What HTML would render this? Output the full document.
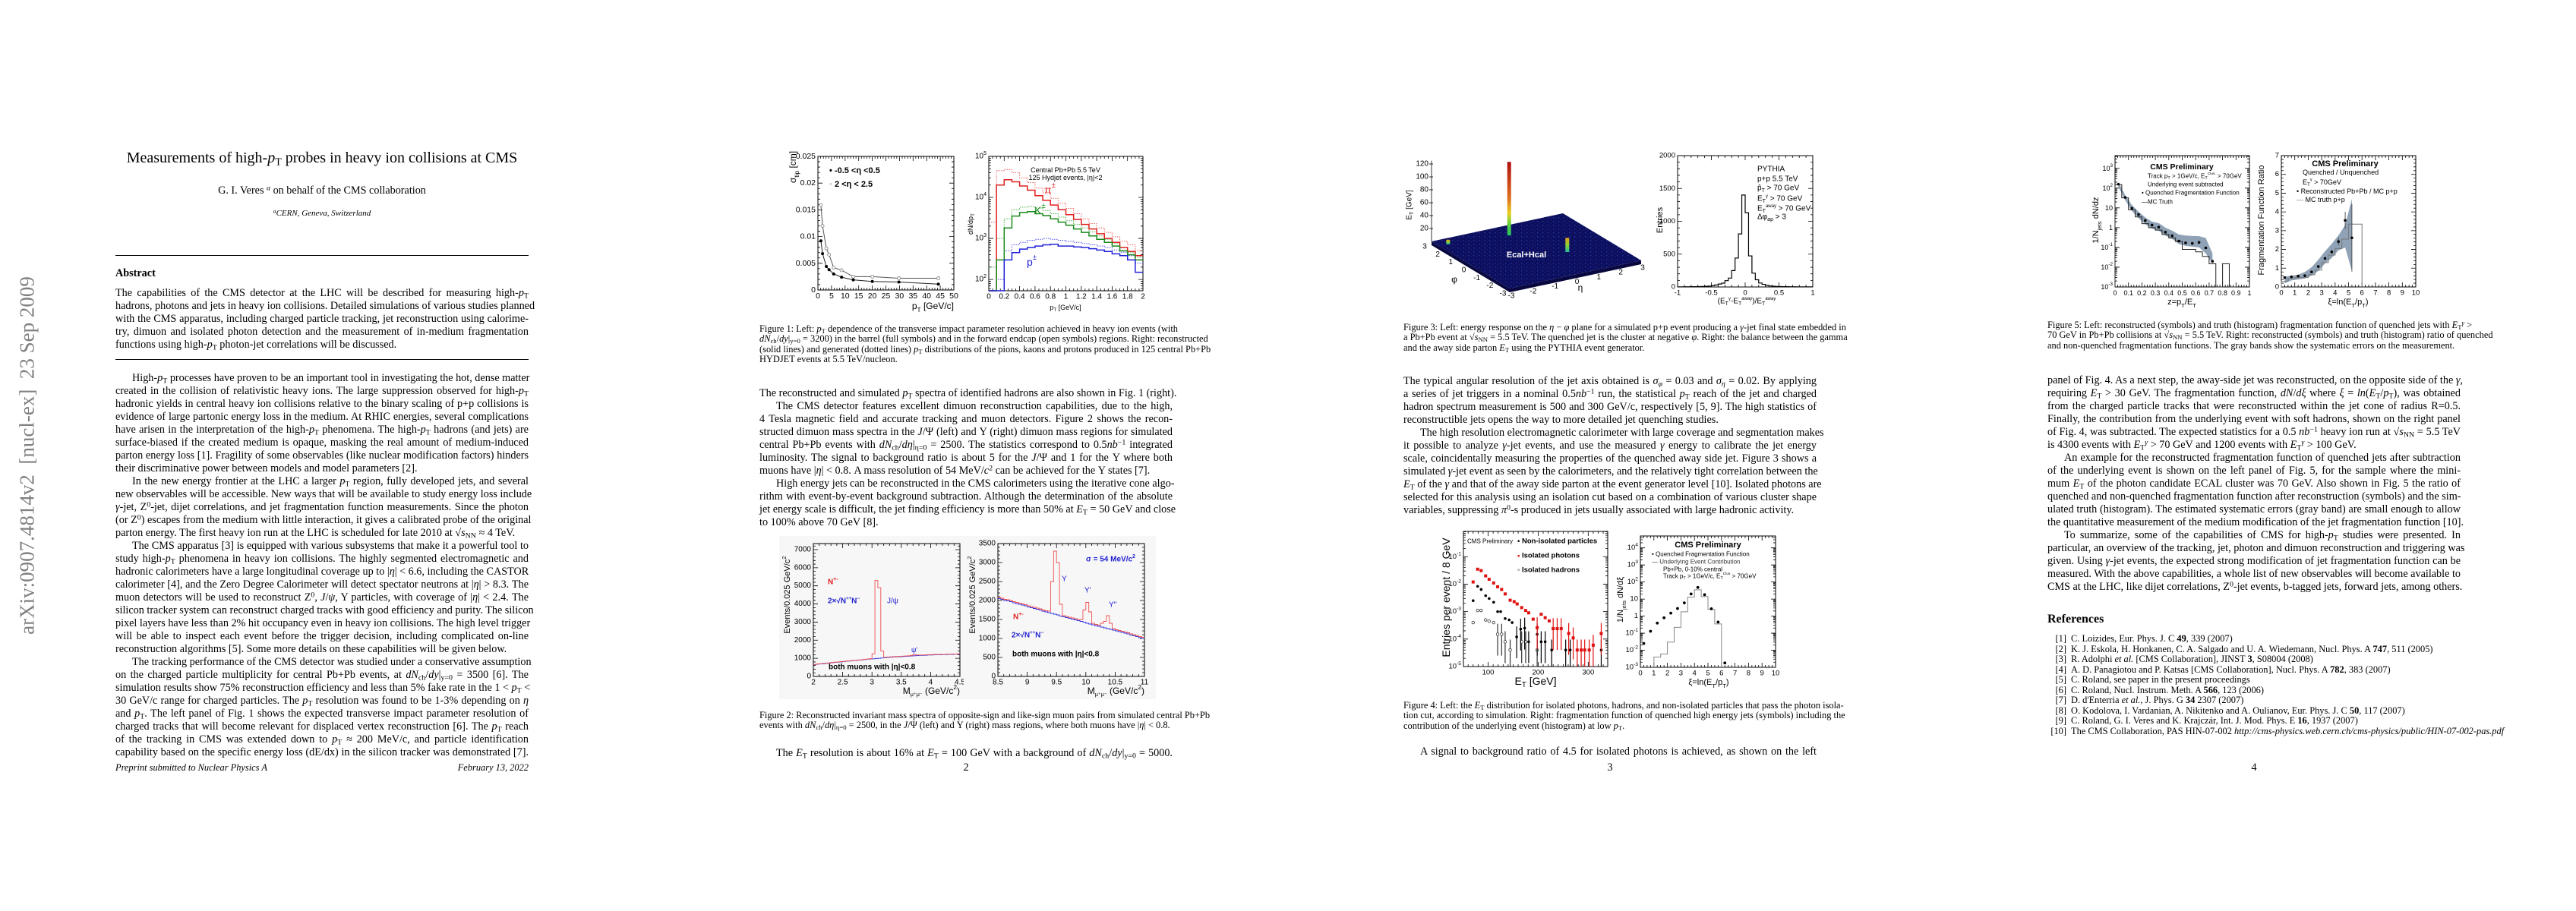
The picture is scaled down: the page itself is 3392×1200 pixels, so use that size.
<!DOCTYPE html>
<html><head><meta charset="utf-8">
<style>
body{margin:0;width:3392px;height:1200px;background:#fff;position:relative;overflow:hidden;font-family:"Liberation Serif",serif;color:#000}
.blk{position:absolute;width:544px;font-size:14.2px;line-height:17px}
.blk div{white-space:nowrap;text-align:justify;text-align-last:justify}
.blk div.e{text-align-last:left}
.i{text-indent:22px}
.cap{position:absolute;width:544px;font-size:12.4px;line-height:13.35px}
.cap div{white-space:nowrap;text-align:justify;text-align-last:justify}
.cap div.e{text-align-last:left}
sub,sup{font-size:70%;line-height:0}
sub{vertical-align:-0.25em}
sup{vertical-align:0.45em}
.pn{position:absolute;width:40px;text-align:center;font-size:14.2px;line-height:17px}
.rule{position:absolute;height:1.3px;background:#000;width:544px;left:152px}
#charts{position:absolute;left:0;top:0}
.ref{position:absolute;left:2696px;width:600px;font-size:12.4px;line-height:13.5px}
.ref div{white-space:nowrap}
.ref span.n{display:inline-block;width:25px;text-align:right;margin-right:6px}
</style></head>
<body>

<div style="position:absolute;left:36px;top:600px;transform:translate(-50%,-50%) rotate(-90deg);white-space:nowrap;font-size:27px;color:#808080">arXiv:0907.4814v2&nbsp; [nucl-ex]&nbsp; 23 Sep 2009</div>

<!-- PAGE 1 -->
<div style="position:absolute;left:132px;width:584px;top:195px;text-align:center;font-size:20px;line-height:26px;white-space:nowrap">Measurements of high-<i>p</i><sub>T</sub> probes in heavy ion collisions at CMS</div>
<div style="position:absolute;left:152px;width:544px;top:243px;text-align:center;font-size:14.2px;line-height:17px">G. I. Veres <sup><i>a</i></sup> on behalf of the CMS collaboration</div>
<div style="position:absolute;left:152px;width:544px;top:274px;text-align:center;font-size:11px;line-height:14px;font-style:italic"><sup>a</sup>CERN, Geneva, Switzerland</div>
<div class="rule" style="top:336px"></div>
<div style="position:absolute;left:152px;top:352px;font-size:14.2px;line-height:17px;font-weight:bold">Abstract</div>
<div class="blk" style="left:152px;top:377.5px">
<div>The capabilities of the CMS detector at the LHC will be described for measuring high-<i>p</i><sub>T</sub></div>
<div>hadrons, photons and jets in heavy ion collisions. Detailed simulations of various studies planned</div>
<div>with the CMS apparatus, including charged particle tracking, jet reconstruction using calorime-</div>
<div>try, dimuon and isolated photon detection and the measurement of in-medium fragmentation</div>
<div class="e">functions using high-<i>p</i><sub>T</sub> photon-jet correlations will be discussed.</div>
</div>
<div class="rule" style="top:473px"></div>
<div class="blk" style="left:152px;top:489.5px">
<div class="i">High-<i>p</i><sub>T</sub> processes have proven to be an important tool in investigating the hot, dense matter</div>
<div>created in the collision of relativistic heavy ions. The large suppression observed for high-<i>p</i><sub>T</sub></div>
<div>hadronic yields in central heavy ion collisions relative to the binary scaling of p+p collisions is</div>
<div>evidence of large partonic energy loss in the medium. At RHIC energies, several complications</div>
<div>have arisen in the interpretation of the high-<i>p</i><sub>T</sub> phenomena. The high-<i>p</i><sub>T</sub> hadrons (and jets) are</div>
<div>surface-biased if the created medium is opaque, masking the real amount of medium-induced</div>
<div>parton energy loss [1]. Fragility of some observables (like nuclear modification factors) hinders</div>
<div class="e">their discriminative power between models and model parameters [2].</div>
<div class="i">In the new energy frontier at the LHC a larger <i>p</i><sub>T</sub> region, fully developed jets, and several</div>
<div>new observables will be accessible. New ways that will be available to study energy loss include</div>
<div><i>γ</i>-jet, Z<sup>0</sup>-jet, dijet correlations, and jet fragmentation function measurements. Since the photon</div>
<div>(or Z<sup>0</sup>) escapes from the medium with little interaction, it gives a calibrated probe of the original</div>
<div class="e">parton energy. The first heavy ion run at the LHC is scheduled for late 2010 at √<i>s</i><sub>NN</sub> ≈ 4 TeV.</div>
<div class="i">The CMS apparatus [3] is equipped with various subsystems that make it a powerful tool to</div>
<div>study high-<i>p</i><sub>T</sub> phenomena in heavy ion collisions. The highly segmented electromagnetic and</div>
<div>hadronic calorimeters have a large longitudinal coverage up to |<i>η</i>| &lt; 6.6, including the CASTOR</div>
<div>calorimeter [4], and the Zero Degree Calorimeter will detect spectator neutrons at |<i>η</i>| &gt; 8.3. The</div>
<div>muon detectors will be used to reconstruct Z<sup>0</sup>, <i>J</i>/<i>ψ</i>, Υ particles, with coverage of |<i>η</i>| &lt; 2.4. The</div>
<div>silicon tracker system can reconstruct charged tracks with good efficiency and purity. The silicon</div>
<div>pixel layers have less than 2% hit occupancy even in heavy ion collisions. The high level trigger</div>
<div>will be able to inspect each event before the trigger decision, including complicated on-line</div>
<div class="e">reconstruction algorithms [5]. Some more details on these capabilities will be given below.</div>
<div class="i">The tracking performance of the CMS detector was studied under a conservative assumption</div>
<div>on the charged particle multiplicity for central Pb+Pb events, at <i>dN</i><sub>ch</sub>/<i>dy</i>|<sub>y=0</sub> = 3500 [6]. The</div>
<div>simulation results show 75% reconstruction efficiency and less than 5% fake rate in the 1 &lt; <i>p</i><sub>T</sub> &lt;</div>
<div>30 GeV/c range for charged particles. The <i>p</i><sub>T</sub> resolution was found to be 1-3% depending on <i>η</i></div>
<div>and <i>p</i><sub>T</sub>. The left panel of Fig. 1 shows the expected transverse impact parameter resolution of</div>
<div>charged tracks that will become relevant for displaced vertex reconstruction [6]. The <i>p</i><sub>T</sub> reach</div>
<div>of the tracking in CMS was extended down to <i>p</i><sub>T</sub> ≈ 200 MeV/c, and particle identification</div>
<div>capability based on the specific energy loss (dE/dx) in the silicon tracker was demonstrated [7].</div>
</div>
<div style="position:absolute;left:152px;top:1004px;font-size:12.4px;font-style:italic">Preprint submitted to Nuclear Physics A</div>
<div style="position:absolute;left:552px;width:144px;text-align:right;top:1004px;font-size:12.4px;font-style:italic">February 13, 2022</div>

<!-- PAGE 2 -->
<div class="cap" style="left:1000px;top:427px">
<div>Figure 1: Left: <i>p</i><sub>T</sub> dependence of the transverse impact parameter resolution achieved in heavy ion events (with</div>
<div><i>dN</i><sub>ch</sub>/<i>dy</i>|<sub>y=0</sub> = 3200) in the barrel (full symbols) and in the forward endcap (open symbols) regions. Right: reconstructed</div>
<div>(solid lines) and generated (dotted lines) <i>p</i><sub>T</sub> distributions of the pions, kaons and protons produced in 125 central Pb+Pb</div>
<div class="e">HYDJET events at 5.5 TeV/nucleon.</div>
</div>
<div class="blk" style="left:1000px;top:509.5px">
<div>The reconstructed and simulated <i>p</i><sub>T</sub> spectra of identified hadrons are also shown in Fig. 1 (right).</div>
<div class="i">The CMS detector features excellent dimuon reconstruction capabilities, due to the high,</div>
<div>4 Tesla magnetic field and accurate tracking and muon detectors. Figure 2 shows the recon-</div>
<div>structed dimuon mass spectra in the <i>J</i>/Ψ (left) and Υ (right) dimuon mass regions for simulated</div>
<div>central Pb+Pb events with <i>dN</i><sub>ch</sub>/<i>dη</i>|<sub>η=0</sub> = 2500. The statistics correspond to 0.5<i>nb</i><sup>−1</sup> integrated</div>
<div>luminosity. The signal to background ratio is about 5 for the <i>J</i>/Ψ and 1 for the Υ where both</div>
<div class="e">muons have |<i>η</i>| &lt; 0.8. A mass resolution of 54 MeV/<i>c</i><sup>2</sup> can be achieved for the Υ states [7].</div>
<div class="i">High energy jets can be reconstructed in the CMS calorimeters using the iterative cone algo-</div>
<div>rithm with event-by-event background subtraction. Although the determination of the absolute</div>
<div>jet energy scale is difficult, the jet finding efficiency is more than 50% at <i>E</i><sub>T</sub> = 50 GeV and close</div>
<div class="e">to 100% above 70 GeV [8].</div>
</div>
<div class="cap" style="left:1000px;top:936px">
<div>Figure 2: Reconstructed invariant mass spectra of opposite-sign and like-sign muon pairs from simulated central Pb+Pb</div>
<div class="e">events with <i>dN</i><sub>ch</sub>/<i>dη</i>|<sub>η=0</sub> = 2500, in the <i>J</i>/Ψ (left) and Υ (right) mass regions, where both muons have |<i>η</i>| &lt; 0.8.</div>
</div>
<div class="blk" style="left:1000px;top:983.5px">
<div class="i">The <i>E</i><sub>T</sub> resolution is about 16% at <i>E</i><sub>T</sub> = 100 GeV with a background of <i>dN</i><sub>ch</sub>/<i>dy</i>|<sub>y=0</sub> = 5000.</div>
</div>
<div class="pn" style="left:1252px;top:1003px">2</div>

<!-- PAGE 3 -->
<div class="cap" style="left:1848px;top:425px">
<div>Figure 3: Left: energy response on the <i>η</i> − <i>φ</i> plane for a simulated p+p event producing a <i>γ</i>-jet final state embedded in</div>
<div>a Pb+Pb event at √<i>s</i><sub>NN</sub> = 5.5 TeV. The quenched jet is the cluster at negative <i>φ</i>. Right: the balance between the gamma</div>
<div class="e">and the away side parton <i>E</i><sub>T</sub> using the PYTHIA event generator.</div>
</div>
<div class="blk" style="left:1848px;top:493.5px">
<div>The typical angular resolution of the jet axis obtained is <i>σ<sub>φ</sub></i> = 0.03 and <i>σ<sub>η</sub></i> = 0.02. By applying</div>
<div>a series of jet triggers in a nominal 0.5<i>nb</i><sup>−1</sup> run, the statistical <i>p</i><sub>T</sub> reach of the jet and charged</div>
<div>hadron spectrum measurement is 500 and 300 GeV/c, respectively [5, 9]. The high statistics of</div>
<div class="e">reconstructible jets opens the way to more detailed jet quenching studies.</div>
<div class="i">The high resolution electromagnetic calorimeter with large coverage and segmentation makes</div>
<div>it possible to analyze <i>γ</i>-jet events, and use the measured <i>γ</i> energy to calibrate the jet energy</div>
<div>scale, coincidentally measuring the properties of the quenched away side jet. Figure 3 shows a</div>
<div>simulated <i>γ</i>-jet event as seen by the calorimeters, and the relatively tight correlation between the</div>
<div><i>E</i><sub>T</sub> of the <i>γ</i> and that of the away side parton at the event generator level [10]. Isolated photons are</div>
<div>selected for this analysis using an isolation cut based on a combination of various cluster shape</div>
<div class="e">variables, suppressing <i>π</i><sup>0</sup>-s produced in jets usually associated with large hadronic activity.</div>
</div>
<div class="cap" style="left:1848px;top:923px">
<div>Figure 4: Left: the <i>E</i><sub>T</sub> distribution for isolated photons, hadrons, and non-isolated particles that pass the photon isola-</div>
<div>tion cut, according to simulation. Right: fragmentation function of quenched high energy jets (symbols) including the</div>
<div class="e">contribution of the underlying event (histogram) at low <i>p</i><sub>T</sub>.</div>
</div>
<div class="blk" style="left:1848px;top:981.5px">
<div class="i">A signal to background ratio of 4.5 for isolated photons is achieved, as shown on the left</div>
</div>
<div class="pn" style="left:2100px;top:1003px">3</div>

<!-- PAGE 4 -->
<div class="cap" style="left:2696px;top:422px">
<div>Figure 5: Left: reconstructed (symbols) and truth (histogram) fragmentation function of quenched jets with <i>E</i><sub>T</sub><sup><i>γ</i></sup> &gt;</div>
<div>70 GeV in Pb+Pb collisions at √<i>s</i><sub>NN</sub> = 5.5 TeV. Right: reconstructed (symbols) and truth (histogram) ratio of quenched</div>
<div class="e">and non-quenched fragmentation functions. The gray bands show the systematic errors on the measurement.</div>
</div>
<div class="blk" style="left:2696px;top:492.5px">
<div>panel of Fig. 4. As a next step, the away-side jet was reconstructed, on the opposite side of the <i>γ</i>,</div>
<div>requiring <i>E</i><sub>T</sub> &gt; 30 GeV. The fragmentation function, <i>dN</i>/<i>dξ</i> where <i>ξ</i> = <i>ln</i>(<i>E</i><sub>T</sub>/<i>p</i><sub>T</sub>), was obtained</div>
<div>from the charged particle tracks that were reconstructed within the jet cone of radius R=0.5.</div>
<div>Finally, the contribution from the underlying event with soft hadrons, shown on the right panel</div>
<div>of Fig. 4, was subtracted. The expected statistics for a 0.5 <i>nb</i><sup>−1</sup> heavy ion run at √<i>s</i><sub>NN</sub> = 5.5 TeV</div>
<div class="e">is 4300 events with <i>E</i><sub>T</sub><sup><i>γ</i></sup> &gt; 70 GeV and 1200 events with <i>E</i><sub>T</sub><sup><i>γ</i></sup> &gt; 100 GeV.</div>
<div class="i">An example for the reconstructed fragmentation function of quenched jets after subtraction</div>
<div>of the underlying event is shown on the left panel of Fig. 5, for the sample where the mini-</div>
<div>mum <i>E</i><sub>T</sub> of the photon candidate ECAL cluster was 70 GeV. Also shown in Fig. 5 the ratio of</div>
<div>quenched and non-quenched fragmentation function after reconstruction (symbols) and the sim-</div>
<div>ulated truth (histogram). The estimated systematic errors (gray band) are small enough to allow</div>
<div>the quantitative measurement of the medium modification of the jet fragmentation function [10].</div>
<div class="i">To summarize, some of the capabilities of CMS for high-<i>p</i><sub>T</sub> studies were presented. In</div>
<div>particular, an overview of the tracking, jet, photon and dimuon reconstruction and triggering was</div>
<div>given. Using <i>γ</i>-jet events, the expected strong modification of jet fragmentation function can be</div>
<div>measured. With the above capabilities, a whole list of new observables will become available to</div>
<div>CMS at the LHC, like dijet correlations, Z<sup>0</sup>-jet events, b-tagged jets, forward jets, among others.</div>
</div>
<div style="position:absolute;left:2696px;top:806px;font-size:16px;font-weight:bold;line-height:20px">References</div>
<div class="ref" style="top:835px">
<div><span class="n">[1]</span>C. Loizides, Eur. Phys. J. C <b>49</b>, 339 (2007)</div>
<div><span class="n">[2]</span>K. J. Eskola, H. Honkanen, C. A. Salgado and U. A. Wiedemann, Nucl. Phys. A <b>747</b>, 511 (2005)</div>
<div><span class="n">[3]</span>R. Adolphi <i>et al.</i> [CMS Collaboration], JINST <b>3</b>, S08004 (2008)</div>
<div><span class="n">[4]</span>A. D. Panagiotou and P. Katsas [CMS Collaboration], Nucl. Phys. A <b>782</b>, 383 (2007)</div>
<div><span class="n">[5]</span>C. Roland, see paper in the present proceedings</div>
<div><span class="n">[6]</span>C. Roland, Nucl. Instrum. Meth. A <b>566</b>, 123 (2006)</div>
<div><span class="n">[7]</span>D. d'Enterria <i>et al.</i>, J. Phys. G <b>34</b> 2307 (2007)</div>
<div><span class="n">[8]</span>O. Kodolova, I. Vardanian, A. Nikitenko and A. Oulianov, Eur. Phys. J. C <b>50</b>, 117 (2007)</div>
<div><span class="n">[9]</span>C. Roland, G. I. Veres and K. Krajczár, Int. J. Mod. Phys. E <b>16</b>, 1937 (2007)</div>
<div><span class="n">[10]</span>The CMS Collaboration, PAS HIN-07-002 <i>http://cms-physics.web.cern.ch/cms-physics/public/HIN-07-002-pas.pdf</i></div>
</div>
<div class="pn" style="left:2948px;top:1003px">4</div>

<svg id="charts" width="3392" height="1200" xmlns="http://www.w3.org/2000/svg">
<defs>
<linearGradient id="spikeG" x1="0" y1="1" x2="0" y2="0">
<stop offset="0" stop-color="#20c060"/><stop offset="0.15" stop-color="#60d040"/><stop offset="0.3" stop-color="#e8d020"/><stop offset="0.5" stop-color="#e07020"/><stop offset="1" stop-color="#b01010"/>
</linearGradient>
<linearGradient id="spikeS" x1="0" y1="1" x2="0" y2="0">
<stop offset="0" stop-color="#20c0a0"/><stop offset="0.5" stop-color="#90d030"/><stop offset="1" stop-color="#e8a020"/>
</linearGradient>
<pattern id="legoDots" width="7" height="5" patternUnits="userSpaceOnUse">
<rect width="7" height="5" fill="#0e0e5e"/><rect x="1" y="1" width="1.4" height="1.4" fill="#1a3a9a"/><rect x="4.5" y="3" width="1.2" height="1.2" fill="#14287a"/>
</pattern>
</defs>
</svg>

<script>
// ---------- Figure 1 left: impact parameter resolution ----------
const f1lPt=[1.1,1.7,3.1,4.1,5.8,8.7,13,20,29.8,44.3];
const f1lBarrel=[0.0092,0.0068,0.0044,0.0038,0.0030,0.0024,0.0019,0.0016,0.0015,0.0011];
const f1lEndcap=[0.0159,0.0120,0.0078,0.0066,0.0042,0.0037,0.0025,0.0025,0.0022,0.0022];
const f1lXTicks=[0,5,10,15,20,25,30,35,40,45,50];
const f1lYTicks=[0,0.005,0.01,0.015,0.02,0.025];
const f1lYLabels=['0','0.005','0.01','0.015','0.02','0.025'];
// ---------- Figure 1 right: identified hadron spectra ----------
const f1rBins=[0,0.1,0.2,0.3,0.4,0.5,0.6,0.7,0.8,0.9,1.0,1.1,1.2,1.3,1.4,1.5,1.6,1.7,1.8,1.9];
const f1rPiReco=[40,20000,27000,24000,19000,15000,11000,8500,6500,5000,3800,2900,2200,1700,1300,1000,800,600,480,380];
const f1rPiGen=[2500,45000,48000,40000,30000,23000,17000,13000,9500,7200,5400,4000,3000,2300,1800,1400,1100,850,700,500];
const f1rKReco=[40,300,1800,3500,4300,4500,4000,3600,3000,2500,2100,1700,1400,1150,950,800,650,500,400,300];
const f1rKGen=[200,1000,3000,5000,5800,6000,5500,4800,4000,3300,2700,2200,1800,1450,1150,950,750,600,450,350];
const f1rPReco=[40,40,300,450,550,600,650,700,720,650,650,620,600,560,520,480,420,380,300,150];
const f1rPGen=[50,100,500,700,800,900,950,1000,950,900,850,800,750,700,650,600,520,460,380,250];
const f1rXTicks=[0,0.2,0.4,0.6,0.8,1,1.2,1.4,1.6,1.8,2];
const f1rYTicks=[100,1000,10000,100000];
// ---------- Figure 2: dimuon mass spectra ----------
const f2lStart=2.0, f2lWidth=0.05;
const f2lBlue=[650,680,690,700,720,740,760,780,790,800,820,840,850,870,880,900,910,930,950,960,970,990,1000,1020,1030,1050,1060,1070,1080,1090,1100,1110,1120,1130,1140,1150,1160,1160,1170,1180,1180,1190,1200,1200,1210,1210,1220,1220,1230,1230];
const f2lRed=[660,690,700,720,730,750,770,790,800,820,830,850,860,880,890,910,920,940,960,980,1250,5300,4900,1400,1050,1070,1080,1090,1100,1110,1120,1130,1140,1160,1200,1180,1180,1180,1190,1200,1200,1210,1210,1220,1220,1230,1230,1240,1240,1250];
const f2lXTicks=[2,2.5,3,3.5,4,4.5];
const f2lYTicks=[0,1000,2000,3000,4000,5000,6000,7000];
const f2rStart=8.5, f2rWidth=0.05;
const f2rBlue=[2050,2030,2000,1990,1970,1940,1920,1900,1880,1860,1830,1810,1790,1770,1750,1720,1700,1680,1660,1640,1620,1590,1570,1550,1530,1510,1490,1470,1450,1430,1400,1380,1360,1340,1320,1300,1280,1260,1240,1220,1200,1180,1160,1140,1120,1090,1070,1050,1020,1000];
const f2rRed=[2080,2060,2030,2020,2000,1970,1950,1930,1910,1890,1860,1840,1820,1800,1780,1750,1730,1720,2500,3300,3000,1900,1600,1580,1560,1540,1520,1500,1500,1750,1950,1700,1400,1370,1350,1400,1450,1600,1400,1260,1230,1210,1190,1170,1150,1120,1100,1080,1050,1030];
const f2rXTicks=[8.5,9,9.5,10,10.5,11];
const f2rYTicks=[0,500,1000,1500,2000,2500,3000,3500];
// ---------- Figure 3: lego plot and balance histogram ----------
const legoEta=[-0.05,0.98,-2.6];
const legoPhi=[2.0,-0.73,2.4];
const legoEt=[114,22,7];
const legoZTicks=[20,40,60,80,100,120];
const f3rStart=-1, f3rWidth=0.05;
const f3rCounts=[2,2,3,3,4,5,6,8,10,14,20,30,45,58,96,135,250,440,808,1400,1130,473,210,110,60,40,25,15,10,8,6,5,4,3,3,2,2,2,2,2];
const f3rXTicks=[-1,-0.5,0,0.5,1];
const f3rYTicks=[0,500,1000,1500,2000];
// ---------- Figure 4 left: ET distributions ----------
const f4lPhotE=[70,79,86,95,102,111,119,127,134,144,152,158,167,175,181,190,198,206,214,222,230,238,246,261,270,278,286,293,302,310,326];
const f4lPhotY=[0.012,0.035,0.031,0.02,0.015,0.011,0.008,0.0064,0.0044,0.0026,0.0023,0.0019,0.0014,0.0011,0.0009,0.00053,0.00026,0.0008,0.0006,0.00046,0.00024,0.00024,0.00024,0.00016,0.00011,0.00004,0.00004,0.00004,0.00004,0.00006,0.00016];
const f4lNonE=[70,79,86,95,102,111,119,125,134,142,148,157,165,173,181,198,206,214,227,255,264,326];
const f4lNonY=[0.0025,0.0083,0.0064,0.0038,0.003,0.0022,0.001,0.001,0.00056,0.0005,0.0004,0.00012,0.00023,0.00025,0.00008,0.00015,0.00008,0.00008,0.00004,0.00004,0.00004,0.00004];
const f4lHadE=[70,79,86,95,102,111,119,127,134,144,167,175,198];
const f4lHadY=[0.0004,0.0011,0.0011,0.0005,0.00045,0.0004,0.00015,0.00015,0.00008,0.00004,0.00008,0.00008,0.00004];
const f4lXTicks=[100,200,300];
const f4lYTicks=[1e-5,1e-4,1e-3,1e-2,1e-1];
// ---------- Figure 4 right: fragmentation function ----------
const f4rXi=[0.25,0.75,1.25,1.75,2.25,2.75,3.25,3.75,4.25,4.75,5.25,5.75,6.25];
const f4rVal=[0.025,0.13,0.39,0.8,1.5,2.8,6,20,48,18,2.7,0.45,0.0018];
const f4rHistStart=[1,1.5,2,2.5,3,3.5,4,4.5,5,5.5];
const f4rHistVal=[0.004,0.006,0.03,0.22,1.8,13,35,14,2.5,0.35];
const f4rXTicks=[0,1,2,3,4,5,6,7,8,9,10];
const f4rYTicks=[1e-3,1e-2,1e-1,1,10,100,1000,10000];
const f4rYLabels=['10<tspan baseline-shift="super" font-size="70%">-3</tspan>','10<tspan baseline-shift="super" font-size="70%">-2</tspan>','10<tspan baseline-shift="super" font-size="70%">-1</tspan>','1','10','10<tspan baseline-shift="super" font-size="70%">2</tspan>','10<tspan baseline-shift="super" font-size="70%">3</tspan>','10<tspan baseline-shift="super" font-size="70%">4</tspan>'];
// ---------- Figure 5 left: dN/dz ----------
const f5lZ=[0.025,0.075,0.125,0.175,0.225,0.275,0.325,0.375,0.425,0.475,0.525,0.575,0.625,0.675,0.725];
const f5lVal=[158,34,9.6,4.6,2.3,1.35,1.06,0.59,0.39,0.21,0.17,0.16,0.18,0.095,0.02];
const f5lBandHi=[200,45,14,6.5,3.3,2.0,1.7,1.0,0.7,0.45,0.4,0.38,0.37,0.3,0.05];
const f5lBandLo=[120,25,7,3,1.5,0.9,0.7,0.4,0.27,0.15,0.12,0.11,0.1,0.05,0.015];
const f5lHistStart=[0,0.05,0.1,0.15,0.2,0.25,0.3,0.35,0.4,0.45,0.5,0.55,0.6,0.65,0.7,0.75,0.8,0.85];
const f5lHistVal=[150,32,8,3.5,1.6,1.0,0.75,0.45,0.3,0.2,0.08,0.08,0.06,0.035,0.015,0.0001,0.015,0.0001];
const f5lXTicks=[0,0.1,0.2,0.3,0.4,0.5,0.6,0.7,0.8,0.9,1];
const f5lYTicks=[1e-3,1e-2,1e-1,1,10,100,1000];
const f5lYLabels=['10<tspan baseline-shift="super" font-size="70%">-3</tspan>','10<tspan baseline-shift="super" font-size="70%">-2</tspan>','10<tspan baseline-shift="super" font-size="70%">-1</tspan>','1','10','10<tspan baseline-shift="super" font-size="70%">2</tspan>','10<tspan baseline-shift="super" font-size="70%">3</tspan>'];
// ---------- Figure 5 right: ratio ----------
const f5rXi=[0.25,0.75,1.25,1.75,2.25,2.75,3.25,3.75,4.25,4.75,5.25];
const f5rVal=[0.5,0.54,0.58,0.6,0.8,1.09,1.52,1.87,2.42,3.55,2.62];
const f5rErr=[0.03,0.03,0.03,0.03,0.04,0.05,0.07,0.1,0.2,0.45,1.8];
const f5rBandLo=[0.2,0.35,0.4,0.45,0.6,0.85,1.25,1.55,1.95,2.1,0.85];
const f5rBandHi=[0.55,0.6,0.65,0.8,1.05,1.45,1.9,2.3,2.75,3.3,4.7];
const f5rHistStart=[0,0.5,1,1.5,2,2.5,3,3.5,4,4.5,5,5.5];
const f5rHistVal=[0.3,0.45,0.5,0.5,0.65,0.9,1.3,1.7,2.05,2.55,3.35,3.35];
const f5rXTicks=[0,1,2,3,4,5,6,7,8,9,10];
const f5rYTicks=[0,1,2,3,4,5,6,7];

const svg=document.getElementById('charts');
const NS='http://www.w3.org/2000/svg';
function add(tag,attrs,parent){
  const e=document.createElementNS(NS,tag);
  for(const k in attrs)e.setAttribute(k,attrs[k]);
  (parent||svg).appendChild(e);
  return e;
}
function lin(d0,d1,r0,r1){return v=>r0+(v-d0)/(d1-d0)*(r1-r0);}
function lg(d0,d1,r0,r1){const a=Math.log10(d0),b=Math.log10(d1);return v=>r0+(Math.log10(v)-a)/(b-a)*(r1-r0);}
function txt(x,y,s,size,o,nm){
  o=o||{};
  const t=add('text',{x:x,y:y,'font-size':size,'font-family':'Liberation Sans, sans-serif','text-anchor':o.anchor||'start','dominant-baseline':'central',fill:o.fill||'#000','font-weight':o.bold?'bold':'normal'});
  if(o.rot)t.setAttribute('transform','rotate(-90 '+x+' '+y+')');
  
  
  t.innerHTML=s;
  return t;
}
function pow10(v){const e=Math.round(Math.log10(v));return '10<tspan baseline-shift="super" font-size="70%">'+e+'</tspan>';}
function frame(o){
  const g=add('g',{});
  
  
  const r=add('rect',{x:o.X0,y:o.Y0,width:o.X1-o.X0,height:o.Y1-o.Y0,fill:'none',stroke:'#000','stroke-width':1},g);
  
  
  let d='';
  o.xMaj.forEach(v=>{const x=o.xs(v);d+='M'+x+','+o.Y1+'v-6M'+x+','+o.Y0+'v6';});
  (o.xMin||[]).forEach(v=>{const x=o.xs(v);if(x>o.X0&&x<o.X1)d+='M'+x+','+o.Y1+'v-3M'+x+','+o.Y0+'v3';});
  o.yMaj.forEach(v=>{const y=o.ys(v);d+='M'+o.X0+','+y+'h6M'+o.X1+','+y+'h-6';});
  (o.yMin||[]).forEach(v=>{const y=o.ys(v);if(y>o.Y0&&y<o.Y1)d+='M'+o.X0+','+y+'h3M'+o.X1+','+y+'h-3';});
  const p=add('path',{d:d,stroke:'#000','stroke-width':0.8,fill:'none'},g);
  
  
  o.xMaj.forEach((v,i)=>{txt(o.xs(v),o.Y1+8,o.xLab?o.xLab[i]:String(v),o.fs||10,{anchor:'middle'},o.name+'-x-tick-label');});
  o.yMaj.forEach((v,i)=>{txt(o.X0-3,o.ys(v),o.yLab?o.yLab[i]:String(v),o.fs||10,{anchor:'end'},o.name+'-y-tick-label');});
}
function minorLin(a,b,s){const r=[];for(let v=a;v<=b+1e-9;v+=s)r.push(v);return r;}
function minorLog(a,b){const r=[];for(let e=a;e<b;e++)for(let k=2;k<10;k++)r.push(k*Math.pow(10,e));return r;}
function stepPath(starts,w,vals,xs,ys,lo){
  let d='';
  for(let i=0;i<vals.length;i++){
    const a=(Array.isArray(starts)?starts[i]:starts+i*w), x0=xs(a), x1=xs(a+w), y=ys(Math.max(vals[i],lo));
    d+=(i?'L':'M')+x0+','+y+'L'+x1+','+y;
  }
  return d;
}
function stepClosed(starts,w,vals,xs,ys,lo){
  const first=Array.isArray(starts)?starts[0]:starts;
  const last=(Array.isArray(starts)?starts[vals.length-1]:starts+(vals.length-1)*w)+w;
  return 'M'+xs(first)+','+ys(lo)+'L'+stepPath(starts,w,vals,xs,ys,lo).slice(1)+'L'+xs(last)+','+ys(lo);
}

// ===== Fig 1 left =====
{
  const X0=1077,X1=1256,Y0=206,Y1=382;
  const xs=lin(0,50,X0,X1), ys=lin(0,0.025,Y1,Y0);
  frame({name:'fig1-left',X0,X1,Y0,Y1,xs,ys,xMaj:f1lXTicks,xMin:minorLin(0,50,1),yMaj:f1lYTicks,yLab:f1lYLabels,yMin:minorLin(0,0.025,0.001),fs:10.5});
  const le=add('polyline',{points:f1lPt.map((p,i)=>xs(p)+','+ys(f1lEndcap[i])).join(' '),fill:'none',stroke:'#555','stroke-width':1});
  
  
  const lb=add('polyline',{points:f1lPt.map((p,i)=>xs(p)+','+ys(f1lBarrel[i])).join(' '),fill:'none',stroke:'#222','stroke-width':1});
  
  
  f1lPt.forEach((p,i)=>{
    const c=add('circle',{cx:xs(p),cy:ys(f1lEndcap[i]),r:2,fill:'#fff',stroke:'#888','stroke-width':0.9});
    
    
    const b=add('circle',{cx:xs(p),cy:ys(f1lBarrel[i]),r:2,fill:'#000'});
    
    
  });
  txt(1092,225,'•  -0.5 &lt;η &lt;0.5',11,{bold:true},'fig1-left-legend-barrel');
  txt(1092,243,'<tspan fill="#888">◦</tspan>  2  &lt;η &lt; 2.5',11,{bold:true},'fig1-left-legend-endcap');
  txt(1044,220,'σ<tspan baseline-shift="sub" font-size="70%">tip</tspan> [cm]',12,{rot:true,anchor:'middle'},'fig1-left-y-axis-title');
  txt(1256,403,'p<tspan baseline-shift="sub" font-size="70%">T</tspan> [GeV/c]',12,{anchor:'end'},'fig1-left-x-axis-title');
}
// ===== Fig 1 right =====
{
  const X0=1302,X1=1505,Y0=206,Y1=383;
  const xs=lin(0,2,X0,X1), ys=lg(53,1e5,Y1,Y0);
  frame({name:'fig1-right',X0,X1,Y0,Y1,xs,ys,xMaj:f1rXTicks,xMin:minorLin(0,2,0.05),yMaj:f1rYTicks,yLab:f1rYTicks.map(pow10),yMin:minorLog(1,5),fs:10});
  const series=[[f1rPiGen,'#f06060',true,'pion-generated'],[f1rKGen,'#50b050',true,'kaon-generated'],[f1rPGen,'#5050f0',true,'proton-generated'],[f1rPiReco,'#e02020',false,'pion-reconstructed'],[f1rKReco,'#1a8a1a',false,'kaon-reconstructed'],[f1rPReco,'#2020d8',false,'proton-reconstructed']];
  series.forEach(s=>{
    const p=add('path',{d:stepPath(f1rBins,0.1,s[0],xs,ys,53),fill:'none',stroke:s[1],'stroke-width':s[2]?1:1.5,'stroke-dasharray':s[2]?'1.5,1.5':'none'});
    
    
  });
  txt(1403,224,'Central Pb+Pb 5.5 TeV',9,{anchor:'middle'},'fig1-right-annotation-system');
  txt(1403,234,'125 Hydjet events, |η|&lt;2',9,{anchor:'middle'},'fig1-right-annotation-events');
  txt(1375,250,'π<tspan baseline-shift="super" font-size="70%">±</tspan>',14,{fill:'#e02020'},'fig1-right-pion-label');
  txt(1362,277,'K<tspan baseline-shift="super" font-size="70%">±</tspan>',14,{fill:'#1a8a1a'},'fig1-right-kaon-label');
  txt(1352,345,'p<tspan baseline-shift="super" font-size="70%">±</tspan>',14,{fill:'#2020d8'},'fig1-right-proton-label');
  txt(1278,295,'dN/dp<tspan baseline-shift="sub" font-size="70%">T</tspan>',9,{rot:true,anchor:'middle'},'fig1-right-y-axis-title');
  txt(1403,405,'p<tspan baseline-shift="sub" font-size="70%">T</tspan> [GeV/c]',9,{anchor:'middle'},'fig1-right-x-axis-title');
}
// ===== Fig 2 =====
function dimuon(nm,X0,X1,xd0,xd1,yMax,start,w,blue,red,xT,yT,ytitleX){
  const Y0=716,Y1=891;
  const xs=lin(xd0,xd1,X0,X1), ys=lin(0,yMax,Y1,Y0);
  const bg=add('rect',{x:X0-45,y:Y0-10,width:X1-X0+60,height:Y1-Y0+40,fill:'#f7f7f7'});
  
  
  frame({name:nm,X0,X1,Y0,Y1,xs,ys,xMaj:xT,xMin:minorLin(xd0,xd1,0.1),yMaj:yT,yMin:minorLin(0,yMax,yT[1]/5),fs:10});
  const pb=add('path',{d:stepPath(start,w,blue,xs,ys,0),fill:'none',stroke:'#3030e0','stroke-width':0.9});
  
  
  const pr=add('path',{d:stepPath(start,w,red,xs,ys,0),fill:'none',stroke:'#f05050','stroke-width':0.9});
  
  
  txt(ytitleX,(Y0+Y1)/2-20,'Events/0.025 GeV/c<tspan baseline-shift="super" font-size="70%">2</tspan>',11,{rot:true,anchor:'middle'},nm+'-y-axis-title');
  txt(X1,Y1+19,'M<tspan baseline-shift="sub" font-size="60%">μ⁺μ⁻</tspan> (GeV/c<tspan baseline-shift="super" font-size="70%">2</tspan>)',12,{anchor:'end'},nm+'-x-axis-title');
  return {xs,ys};
}
dimuon('fig2-left',1071,1264,2,4.5,7335,f2lStart,f2lWidth,f2lBlue,f2lRed,f2lXTicks,f2lYTicks,1037);
txt(1090,767,'N<tspan baseline-shift="super" font-size="70%">+-</tspan>',10,{fill:'#e02020',bold:true},'fig2-left-opposite-sign-label');
txt(1090,792,'2×√N<tspan baseline-shift="super" font-size="60%">++</tspan>N<tspan baseline-shift="super" font-size="60%">--</tspan>',10,{fill:'#2020d0',bold:true},'fig2-left-like-sign-label');
txt(1168,792,'J/ψ',10,{fill:'#2020d0'},'fig2-left-jpsi-label');
txt(1200,856,'ψ\'',9,{fill:'#2020d0'},'fig2-left-psi-prime-label');
txt(1091,879,'both muons with |η|&lt;0.8',10,{bold:true},'fig2-left-cut-label');
dimuon('fig2-right',1314,1507,8.5,11,3500,f2rStart,f2rWidth,f2rBlue,f2rRed,f2rXTicks,f2rYTicks,1281);
txt(1430,737,'σ = 54 MeV/c<tspan baseline-shift="super" font-size="70%">2</tspan>',10,{fill:'#2020d0',bold:true},'fig2-right-resolution-label');
txt(1398,763,'Υ',10,{fill:'#2020d0'},'fig2-right-upsilon-1s-label');
txt(1428,778,'Υ\'',10,{fill:'#2020d0'},'fig2-right-upsilon-2s-label');
txt(1460,797,'Υ\'\'',10,{fill:'#2020d0'},'fig2-right-upsilon-3s-label');
txt(1334,813,'N<tspan baseline-shift="super" font-size="70%">+-</tspan>',10,{fill:'#e02020',bold:true},'fig2-right-opposite-sign-label');
txt(1332,837,'2×√N<tspan baseline-shift="super" font-size="60%">++</tspan>N<tspan baseline-shift="super" font-size="60%">--</tspan>',10,{fill:'#2020d0',bold:true},'fig2-right-like-sign-label');
txt(1333,862,'both muons with |η|&lt;0.8',10,{bold:true},'fig2-right-cut-label');

// ===== Fig 3 left: lego =====
{
  const FX=1988,FY=380;
  const P=(eta,phi,et)=>[FX+(eta+3)*173/6+(phi+3)*(-103/6), FY+(eta+3)*(-37/6)+(phi+3)*(-62/6)-et*0.85];
  const c=[P(-3,-3,0),P(3,-3,0),P(3,3,0),P(-3,3,0)];
  const side=add('polygon',{points:[c[3],c[0],c[1],[c[1][0],c[1][1]+5],[c[0][0],c[0][1]+5],[c[3][0],c[3][1]+5]].map(p=>p.join(',')).join(' '),fill:'#08083e'});
  
  
  const top=add('polygon',{points:c.map(p=>p.join(',')).join(' '),fill:'url(#legoDots)'});
  
  
  legoEta.forEach((e,i)=>{
    const b=P(e,legoPhi[i],0), t=P(e,legoPhi[i],legoEt[i]);
    const r=add('rect',{x:b[0]-2.5,y:t[1],width:5,height:b[1]-t[1],fill:i===0?'url(#spikeG)':'url(#spikeS)'});
    
    
  });
  const zx=P(-3,3,0)[0];
  const za=add('line',{x1:zx,y1:P(-3,3,0)[1],x2:zx,y2:P(-3,3,125)[1],stroke:'#000','stroke-width':0.8});
  
  
  legoZTicks.forEach(v=>{
    const y=P(-3,3,v)[1];
    const tk=add('line',{x1:zx-3,y1:y,x2:zx+2,y2:y,stroke:'#000','stroke-width':0.8});
    
    
    txt(zx-4,y,String(v),10,{anchor:'end'},'lego-z-tick-label');
  });
  [-3,-2,-1,0,1,2,3].forEach(v=>{
    const p=P(-3,v,0);
    txt(p[0]-9,p[1]+7,String(v),10,{anchor:'middle'},'lego-phi-tick-label');
    const q=P(v,-3,0);
    txt(q[0]+2,q[1]+10,String(v),10,{anchor:'middle'},'lego-eta-tick-label');
  });
  txt(1915,368,'φ',12,{anchor:'middle'},'lego-phi-axis-title');
  txt(2081,379,'η',12,{anchor:'middle'},'lego-eta-axis-title');
  txt(1856,270,'E<tspan baseline-shift="sub" font-size="70%">T</tspan> [GeV]',10,{rot:true,anchor:'middle'},'lego-z-axis-title');
  txt(2010,336,'Ecal+Hcal',11,{fill:'#fff',bold:true,anchor:'middle'},'lego-label');
}
// ===== Fig 3 right =====
{
  const X0=2209,X1=2387,Y0=205,Y1=378;
  const xs=lin(-1,1,X0,X1), ys=lin(0,2000,Y1,Y0);
  frame({name:'fig3-right',X0,X1,Y0,Y1,xs,ys,xMaj:f3rXTicks,xMin:minorLin(-1,1,0.1),yMaj:f3rYTicks,yMin:minorLin(0,2000,100),fs:9.5});
  const p=add('path',{d:stepPath(f3rStart,f3rWidth,f3rCounts,xs,ys,0),fill:'none',stroke:'#000','stroke-width':1.2});
  
  
  const lines=['PYTHIA','p+p  5.5 TeV','p̂<tspan baseline-shift="sub" font-size="70%">T</tspan> &gt; 70 GeV','E<tspan baseline-shift="sub" font-size="70%">T</tspan><tspan baseline-shift="super" font-size="60%">γ</tspan> &gt; 70 GeV','E<tspan baseline-shift="sub" font-size="70%">T</tspan><tspan baseline-shift="super" font-size="60%">away</tspan> &gt; 70 GeV','Δφ<tspan baseline-shift="sub" font-size="70%">ap</tspan> &gt; 3'];
  const ly=[223,236,248,262,275,286];
  lines.forEach((l,i)=>txt(2314,ly[i],l,10,{},'fig3-right-legend-line'));
  txt(2186,290,'Entries',11,{rot:true,anchor:'middle'},'fig3-right-y-axis-title');
  txt(2300,397,'(E<tspan baseline-shift="sub" font-size="70%">T</tspan><tspan baseline-shift="super" font-size="60%">γ</tspan>-E<tspan baseline-shift="sub" font-size="70%">T</tspan><tspan baseline-shift="super" font-size="60%">away</tspan>)/E<tspan baseline-shift="sub" font-size="70%">T</tspan><tspan baseline-shift="super" font-size="60%">away</tspan>',10,{anchor:'middle'},'fig3-right-x-axis-title');
}
// ===== Fig 4 left =====
{
  const X0=1927,X1=2117,Y0=700,Y1=878;
  const xs=lin(50.6,339,X0,X1), ys=lg(1e-5,0.83,Y1,Y0);
  frame({name:'fig4-left',X0,X1,Y0,Y1,xs,ys,xMaj:f4lXTicks,xMin:minorLin(60,330,10),yMaj:f4lYTicks,yLab:f4lYTicks.map(pow10),yMin:minorLog(-5,0),fs:9.5});
  const bar=(x,y,col,nm)=>{
    if(y<3e-4){
      const l=add('line',{x1:xs(x),x2:xs(x),y1:ys(Math.min(y*2.4,0.9)),y2:Math.min(Y1,ys(Math.max(y/6,1.01e-5))),stroke:col,'stroke-width':1.2});
      
      
    }
  };
  f4lHadE.forEach((e,i)=>{
    bar(e,f4lHadY[i],'#333','fig4-left-hadron-error-bar');
    const c=add('circle',{cx:xs(e),cy:ys(f4lHadY[i]),r:1.8,fill:'#fff',stroke:'#333','stroke-width':0.8});
    
    
  });
  f4lNonE.forEach((e,i)=>{
    bar(e,f4lNonY[i],'#000','fig4-left-nonisolated-error-bar');
    const c=add('circle',{cx:xs(e),cy:ys(f4lNonY[i]),r:1.8,fill:'#000'});
    
    
  });
  f4lPhotE.forEach((e,i)=>{
    bar(e,f4lPhotY[i],'#e01010','fig4-left-photon-error-bar');
    const c=add('rect',{x:xs(e)-2,y:ys(f4lPhotY[i])-2,width:4,height:4,fill:'#e01010'});
    
    
  });
  txt(1932,713,'CMS Preliminary',8,{},'fig4-left-cms-label');
  txt(1998,713,'•  Non-isolated particles',9.5,{bold:true},'fig4-left-legend-nonisolated');
  txt(1998,732,'<tspan fill="#e01010">▪</tspan>  Isolated photons',9.5,{bold:true},'fig4-left-legend-photons');
  txt(1998,751,'◦  Isolated hadrons',9.5,{bold:true},'fig4-left-legend-hadrons');
  txt(1904,787,'Entries per event / 8 GeV',14,{rot:true,anchor:'middle'},'fig4-left-y-axis-title');
  txt(2022,897,'E<tspan baseline-shift="sub" font-size="70%">T</tspan> [GeV]',14,{anchor:'middle'},'fig4-left-x-axis-title');
}
// ===== Fig 4 right =====
{
  const X0=2160,X1=2338,Y0=706,Y1=879;
  const xs=lin(0,10,X0,X1), ys=lg(1e-3,5e4,Y1,Y0);
  frame({name:'fig4-right',X0,X1,Y0,Y1,xs,ys,xMaj:f4rXTicks,xMin:minorLin(0,10,0.25),yMaj:f4rYTicks,yLab:f4rYLabels,yMin:minorLog(-3,5),fs:9.5});
  const p=add('path',{d:stepClosed(f4rHistStart,0.5,f4rHistVal,xs,ys,1e-3),fill:'none',stroke:'#888','stroke-width':1});
  
  
  f4rXi.forEach((x,i)=>{
    const c=add('circle',{cx:xs(x),cy:ys(f4rVal[i]),r:1.9,fill:'#000'});
    
    
  });
  txt(2249,718,'CMS Preliminary',11,{bold:true,anchor:'middle'},'fig4-right-cms-label');
  txt(2175,730,'•  Quenched Fragmentation Function',8,{},'fig4-right-legend-points');
  txt(2175,740,'—  Underlying Event Contribution',8,{fill:'#333'},'fig4-right-legend-histogram');
  txt(2190,750,'Pb+Pb, 0-10% central',8,{},'fig4-right-legend-centrality');
  txt(2190,759,'Track p<tspan baseline-shift="sub" font-size="70%">T</tspan> &gt; 1GeV/c, E<tspan baseline-shift="sub" font-size="70%">T</tspan><tspan baseline-shift="super" font-size="60%">Clus</tspan> &gt; 70GeV',8,{},'fig4-right-legend-cuts');
  txt(2134,790,'1/N<tspan baseline-shift="sub" font-size="70%">jets</tspan> dN/dξ',11,{rot:true,anchor:'middle'},'fig4-right-y-axis-title');
  txt(2250,899,'ξ=ln(E<tspan baseline-shift="sub" font-size="70%">T</tspan>/p<tspan baseline-shift="sub" font-size="70%">T</tspan>)',11,{anchor:'middle'},'fig4-right-x-axis-title');
}
// ===== Fig 5 left =====
{
  const X0=2785,X1=2962,Y0=205,Y1=378;
  const xs=lin(0,1,X0,X1), ys=lg(1e-3,4400,Y1,Y0);
  frame({name:'fig5-left',X0,X1,Y0,Y1,xs,ys,xMaj:f5lXTicks,xMin:minorLin(0,1,0.02),yMaj:f5lYTicks,yLab:f5lYLabels,yMin:minorLog(-3,4),fs:9});
  const pts=f5lZ.map((z,i)=>xs(z)+','+ys(f5lBandHi[i])).concat(f5lZ.map((z,i)=>xs(z)+','+ys(f5lBandLo[i])).reverse());
  const band=add('polygon',{points:pts.join(' '),fill:'#8fa2b6'});
  
  
  const h=add('path',{d:stepClosed(f5lHistStart,0.05,f5lHistVal,xs,ys,1e-3),fill:'none',stroke:'#222','stroke-width':1});
  
  
  f5lZ.forEach((z,i)=>{
    const c=add('circle',{cx:xs(z),cy:ys(f5lVal[i]),r:1.8,fill:'#000'});
    
    
  });
  txt(2873,220,'CMS Preliminary',10.5,{bold:true,anchor:'middle'},'fig5-left-cms-label');
  txt(2828,232,'Track p<tspan baseline-shift="sub" font-size="70%">T</tspan> &gt; 1GeV/c, E<tspan baseline-shift="sub" font-size="70%">T</tspan><tspan baseline-shift="super" font-size="60%">Clus.</tspan> &gt; 70GeV',8,{},'fig5-left-legend-cuts');
  txt(2828,243,'Underlying event subtracted',8,{},'fig5-left-legend-subtraction');
  txt(2820,254,'•  Quenched Fragmentation Function',8,{},'fig5-left-legend-points');
  txt(2820,266,'—MC Truth',8,{},'fig5-left-legend-histogram');
  txt(2760,290,'1/N<tspan baseline-shift="sub" font-size="70%">jets</tspan> dN/dz',11,{rot:true,anchor:'middle'},'fig5-left-y-axis-title');
  txt(2873,398,'z=p<tspan baseline-shift="sub" font-size="70%">T</tspan>/E<tspan baseline-shift="sub" font-size="70%">T</tspan>',11,{anchor:'middle'},'fig5-left-x-axis-title');
}
// ===== Fig 5 right =====
{
  const X0=3004,X1=3181,Y0=205,Y1=378;
  const xs=lin(0,10,X0,X1), ys=lin(0,7,Y1,Y0);
  frame({name:'fig5-right',X0,X1,Y0,Y1,xs,ys,xMaj:f5rXTicks,xMin:minorLin(0,10,0.25),yMaj:f5rYTicks,yMin:minorLin(0,7,0.2),fs:9.5});
  const pts=f5rXi.map((x,i)=>xs(x)+','+ys(f5rBandHi[i])).concat(f5rXi.map((x,i)=>xs(x)+','+ys(f5rBandLo[i])).reverse());
  const band=add('polygon',{points:pts.join(' '),fill:'#8fa2b6'});
  
  
  const h=add('path',{d:stepClosed(f5rHistStart,0.5,f5rHistVal,xs,ys,0),fill:'none',stroke:'#777','stroke-width':1});
  
  
  f5rXi.forEach((x,i)=>{
    const e=add('line',{x1:xs(x),x2:xs(x),y1:ys(f5rVal[i]+f5rErr[i]),y2:ys(f5rVal[i]-f5rErr[i]),stroke:'#333','stroke-width':0.8});
    
    
    const c=add('circle',{cx:xs(x),cy:ys(f5rVal[i]),r:1.8,fill:'#000'});
    
    
  });
  txt(3088,216,'CMS Preliminary',11,{bold:true,anchor:'middle'},'fig5-right-cms-label');
  txt(3032,227,'Quenched / Unquenched',9,{},'fig5-right-legend-ratio');
  txt(3032,240,'E<tspan baseline-shift="sub" font-size="70%">T</tspan><tspan baseline-shift="super" font-size="60%">γ</tspan> &gt; 70GeV',9,{},'fig5-right-legend-cut');
  txt(3024,252,'•  Reconstructed Pb+Pb / MC p+p',9,{},'fig5-right-legend-points');
  txt(3024,263,'<tspan fill="#777">—</tspan> MC truth p+p',9,{},'fig5-right-legend-histogram');
  txt(2978,290,'Fragmentation Function Ratio',11,{rot:true,anchor:'middle'},'fig5-right-y-axis-title');
  txt(3092,398,'ξ=ln(E<tspan baseline-shift="sub" font-size="70%">T</tspan>/p<tspan baseline-shift="sub" font-size="70%">T</tspan>)',11,{anchor:'middle'},'fig5-right-x-axis-title');
}
</script>
</body></html>
